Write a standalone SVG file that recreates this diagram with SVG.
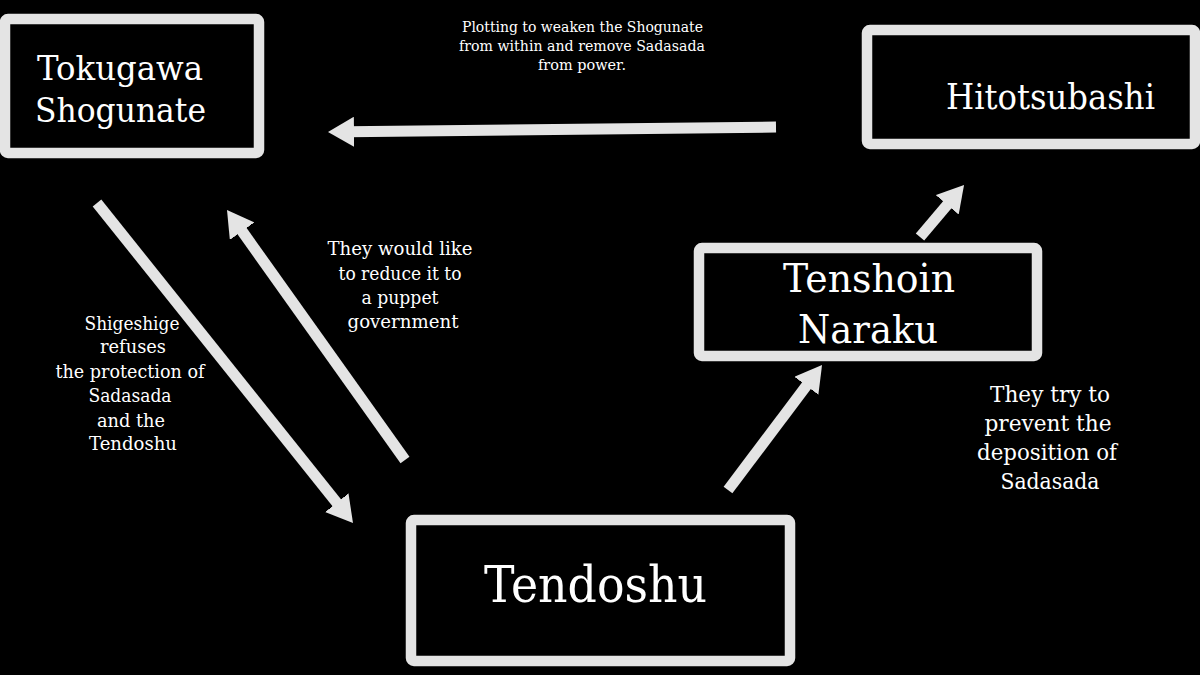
<svg xmlns="http://www.w3.org/2000/svg" width="1200" height="675" viewBox="0 0 1200 675">
<style>
.box{fill:#000;stroke:#e4e4e4;stroke-width:10.5;}
.lbl{fill:#fff;font-family:"DejaVu Serif","Liberation Serif",serif;}
.note{fill:#fff;font-family:"DejaVu Serif","Liberation Serif",serif;text-anchor:middle;}
.arr{stroke:#e4e4e4;stroke-width:11;fill:none;marker-end:url(#head);}
</style>
<defs>
<marker id="head" viewBox="0 0 26 30" refX="6" refY="15" markerWidth="26" markerHeight="30" markerUnits="userSpaceOnUse" orient="auto">
<path d="M0,0 L26,15 L0,30 z" fill="#e4e4e4"/>
</marker>
</defs>
<rect width="1200" height="675" fill="#000"/>
<g id="connectors">
<line class="arr" x1="776" y1="127" x2="348" y2="131.8"/>
<line class="arr" x1="97" y1="203" x2="340.5" y2="507.4"/>
<line class="arr" x1="405" y1="460" x2="238.6" y2="226.3"/>
<line class="arr" x1="728" y1="490" x2="810" y2="381"/>
<line class="arr" x1="920" y1="237" x2="951.1" y2="200.3"/>
</g>
<g id="tokugawa">
<rect class="box" x="5" y="19" width="254" height="134" rx="3"/>
<text class="lbl" x="37" y="80" font-size="34" textLength="166" lengthAdjust="spacingAndGlyphs">Tokugawa</text>
<text class="lbl" x="35" y="122" font-size="34" textLength="171" lengthAdjust="spacingAndGlyphs">Shogunate</text>
</g>
<g id="hitotsubashi">
<rect class="box" x="867" y="30" width="328" height="114" rx="3"/>
<text class="lbl" x="946" y="109" font-size="36" textLength="209" lengthAdjust="spacingAndGlyphs">Hitotsubashi</text>
</g>
<g id="tenshoin">
<rect class="box" x="699" y="248" width="338" height="108" rx="3"/>
<text class="lbl" x="783" y="292" font-size="40" textLength="172" lengthAdjust="spacingAndGlyphs">Tenshoin</text>
<text class="lbl" x="798" y="343" font-size="40" textLength="140" lengthAdjust="spacingAndGlyphs">Naraku</text>
</g>
<g id="tendoshu">
<rect class="box" x="411" y="520" width="379" height="141" rx="3"/>
<text class="lbl" x="484" y="602" font-size="51" textLength="223" lengthAdjust="spacingAndGlyphs">Tendoshu</text>
</g>
<g id="note-plotting" class="note" font-size="15">
<text x="582.5" y="32" textLength="241" lengthAdjust="spacingAndGlyphs">Plotting to weaken the Shogunate</text>
<text x="582" y="51" textLength="246" lengthAdjust="spacingAndGlyphs">from within and remove Sadasada</text>
<text x="582" y="70" textLength="88" lengthAdjust="spacingAndGlyphs">from power.</text>
</g>
<g id="note-shigeshige" class="note" font-size="19">
<text x="132" y="330" textLength="95" lengthAdjust="spacingAndGlyphs">Shigeshige</text>
<text x="133" y="353" textLength="66" lengthAdjust="spacingAndGlyphs">refuses</text>
<text x="130" y="378" textLength="149" lengthAdjust="spacingAndGlyphs">the protection of</text>
<text x="130" y="402" textLength="83" lengthAdjust="spacingAndGlyphs">Sadasada</text>
<text x="131" y="427" textLength="68" lengthAdjust="spacingAndGlyphs">and the</text>
<text x="133" y="450" textLength="88" lengthAdjust="spacingAndGlyphs">Tendoshu</text>
</g>
<g id="note-puppet" class="note" font-size="19">
<text x="400" y="255" textLength="145" lengthAdjust="spacingAndGlyphs">They would like</text>
<text x="400" y="280" textLength="123" lengthAdjust="spacingAndGlyphs">to reduce it to</text>
<text x="400" y="304" textLength="77" lengthAdjust="spacingAndGlyphs">a puppet</text>
<text x="403" y="328" textLength="111" lengthAdjust="spacingAndGlyphs">government</text>
</g>
<g id="note-prevent" class="note" font-size="23">
<text x="1050" y="402" textLength="120" lengthAdjust="spacingAndGlyphs">They try to</text>
<text x="1048" y="431" textLength="127" lengthAdjust="spacingAndGlyphs">prevent the</text>
<text x="1047" y="460" textLength="140" lengthAdjust="spacingAndGlyphs">deposition of</text>
<text x="1050" y="489" textLength="99" lengthAdjust="spacingAndGlyphs">Sadasada</text>
</g>
</svg>
